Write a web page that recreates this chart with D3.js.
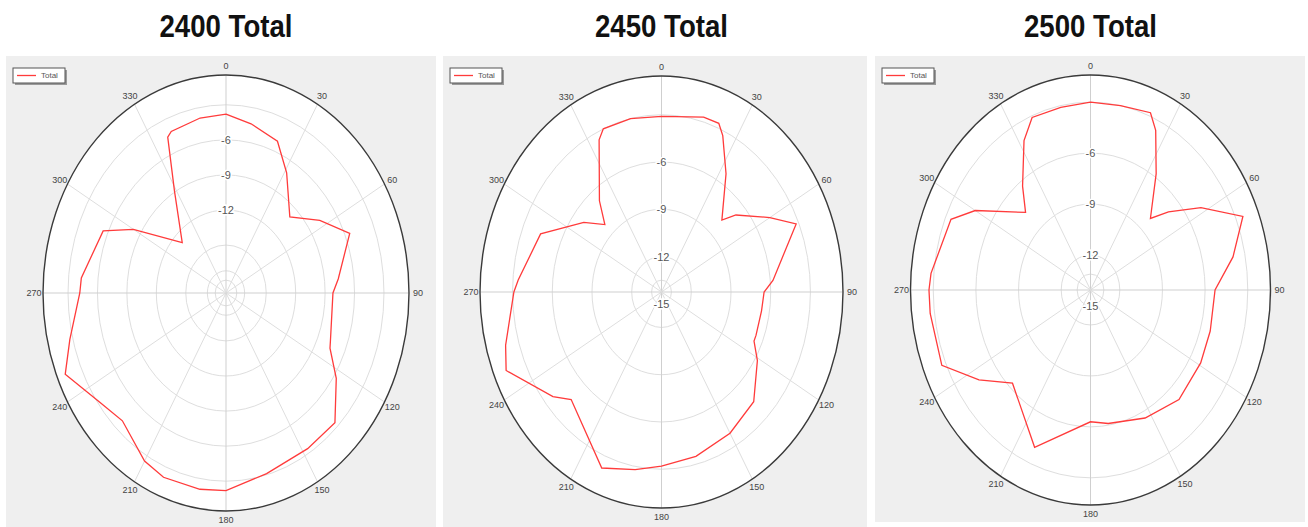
<!DOCTYPE html>
<html>
<head>
<meta charset="utf-8">
<script src="https://d3js.org/d3.v7.min.js"></script>
<style>
body { margin: 0; background: #fff; }
text { font-family: "Liberation Sans", Arial, sans-serif; }
</style>
</head>
<body>
<script>
// chart titles and legend
var titles = ["2400 Total", "2450 Total", "2500 Total"];
var seriesName = "Total";

// angle tick labels (degrees)
var angleTicks = [0, 30, 60, 90, 120, 150, 180, 210, 240, 270, 300, 330];

// 2400 pattern (deg, dB)
var angles2400 = [0, 10, 22, 31, 45, 57, 68, 84, 90, 111, 114, 123, 135, 148, 165, 180, 189, 202, 210, 224, 234, 247, 256, 270, 275, 293, 300, 314, 329, 336, 338, 350];
var gain2400 = [-3.8, -4.4, -5.1, -7.1, -9.9, -7.7, -5.5, -7.6, -8.2, -7.7, -7.5, -5.7, -3.4, -3.4, -3.1, -2.2, -2.1, -2.1, -2.5, -3.9, -3.2, -1.3, -2.7, -4.2, -4.3, -5.5, -8.2, -12.9, -8.9, -4.5, -4.2, -3.9];
var rings2400 = [-3, -6, -9, -12, -15, -18, -21];
var ringLabels2400 = [-6, -9, -12];

// 2450 pattern
var angles2450 = [0, 16, 22, 25, 33, 45, 49, 60, 67, 85, 90, 99, 111, 114, 121, 135, 150, 166, 180, 190, 202, 225, 231, 247, 254, 270, 274, 292, 307, 315, 321, 334, 337, 348];
var gain2450 = [-3.1, -2.7, -2.7, -3.3, -5.3, -7.8, -6.8, -4.8, -3.2, -5.8, -6.5, -6.6, -6.6, -6.6, -5.8, -4.4, -3.9, -3.5, -3.2, -2.8, -2.2, -4.6, -3.7, -1.5, -2.0, -3.1, -3.4, -4.4, -6.9, -8.2, -6.8, -3.5, -3.0, -3.0];
var rings2450 = [-3, -6, -9, -12, -15];
var ringLabels2450 = [-6, -9, -12, -15];

// 2500 pattern
var angles2500 = [0, 11, 22, 26, 34, 45, 50, 58, 68, 79, 90, 106, 119, 136, 153, 171, 180, 203, 225, 236, 247, 263, 270, 275, 293, 300, 315, 322, 332, 338, 349];
var gain2500 = [-3.0, -3.0, -2.8, -3.6, -5.8, -8.1, -6.9, -4.9, -2.5, -3.85, -5.3, -5.3, -5.2, -5.1, -5.6, -6.1, -6.3, -4.0, -6.3, -4.6, -2.7, -2.7, -2.7, -2.8, -3.4, -4.7, -7.6, -6.3, -4.1, -3.1, -3.1];
var rings2500 = [-3, -6, -9, -12, -15];
var ringLabels2500 = [-6, -9, -12, -15];

var width = 1308, height = 527;

var panels = [
	{ title: titles[0], angles: angles2400, gains: gain2400, rings: rings2400, labels: ringLabels2400,
	  domain: [-19.1, -0.45], box: [6, 56, 430, 471], cx: 226, cy: 293, rx: 183, ry: 218 },
	{ title: titles[1], angles: angles2450, gains: gain2450, rings: rings2450, labels: ringLabels2450,
	  domain: [-14.25, -0.54], box: [443, 56, 424, 471], cx: 661.5, cy: 292, rx: 181.5, ry: 216 },
	{ title: titles[2], angles: angles2500, gains: gain2500, rings: rings2500, labels: ringLabels2500,
	  domain: [-14.06, -1.4], box: [875, 56, 430, 466], cx: 1090.5, cy: 290, rx: 180, ry: 215 }
];

var svg = d3.select("body")
			.append("svg")
			.attr("width", width)
			.attr("height", height);

var ang = d3.scaleLinear()
		.domain([0, 360])
		.range([0, 2 * Math.PI]);

panels.forEach(function(p) {
	var g = svg.append("g");
	var r = d3.scaleLinear()
			.domain(p.domain)
			.range([0, 1]);

	function px(deg, n) { return p.cx + p.rx * n * Math.sin(ang(deg)); }
	function py(deg, n) { return p.cy - p.ry * n * Math.cos(ang(deg)); }

	// title
	g.append("text")
		.attr("x", p.cx)
		.attr("y", 37)
		.attr("text-anchor", "middle")
		.attr("font-size", 32)
		.attr("font-weight", "bold")
		.attr("fill", "#111")
		.attr("textLength", 133)
		.attr("lengthAdjust", "spacingAndGlyphs")
		.text(p.title);

	// panel background
	g.append("rect")
		.attr("x", p.box[0])
		.attr("y", p.box[1])
		.attr("width", p.box[2])
		.attr("height", p.box[3])
		.attr("fill", "#efefef");

	// plot area
	g.append("ellipse")
		.attr("cx", p.cx)
		.attr("cy", p.cy)
		.attr("rx", p.rx)
		.attr("ry", p.ry)
		.attr("fill", "#fff");

	// grid rings
	g.selectAll(".ring")
		.data(p.rings)
		.enter()
		.append("ellipse")
			.attr("cx", p.cx)
			.attr("cy", p.cy)
			.attr("rx", function(d) { return p.rx * Math.abs(r(d)); })
			.attr("ry", function(d) { return p.ry * Math.abs(r(d)); })
			.attr("fill", "none")
			.attr("stroke", "#dedede")
			.attr("stroke-width", 1);

	// spokes
	g.selectAll(".spoke")
		.data(angleTicks)
		.enter()
		.append("line")
			.attr("x1", p.cx)
			.attr("y1", p.cy)
			.attr("x2", function(d) { return px(d, 1); })
			.attr("y2", function(d) { return py(d, 1); })
			.attr("stroke", function(d) { return d % 90 == 0 ? "#cfcfcf" : "#dedede"; })
			.attr("stroke-width", 1);

	// outer frame
	g.append("ellipse")
		.attr("cx", p.cx)
		.attr("cy", p.cy)
		.attr("rx", p.rx)
		.attr("ry", p.ry)
		.attr("fill", "none")
		.attr("stroke", "#3a3a3a")
		.attr("stroke-width", 1.4);

	// angle labels
	g.selectAll(".alabel")
		.data(angleTicks)
		.enter()
		.append("text")
			.attr("x", function(d) { return px(d, 1) + 9 * Math.sin(ang(d)); })
			.attr("y", function(d) { return py(d, 1) - 9 * Math.cos(ang(d)); })
			.attr("text-anchor", "middle")
			.attr("dominant-baseline", "central")
			.attr("font-size", 9)
			.attr("fill", "#444")
			.text(function(d) { return d; });

	// ring labels
	g.selectAll(".rlabel")
		.data(p.labels)
		.enter()
		.append("text")
			.attr("x", p.cx)
			.attr("y", function(d) { return py(0, r(d)); })
			.attr("text-anchor", "middle")
			.attr("dominant-baseline", "central")
			.attr("font-size", 11)
			.attr("fill", "#555")
			.attr("stroke", "#fff")
			.attr("stroke-width", 3)
			.attr("paint-order", "stroke")
			.text(function(d) { return d; });

	// pattern
	var pts = d3.zip(p.angles, p.gains);
	var line = d3.line()
			.x(function(d) { return px(d[0], r(d[1])); })
			.y(function(d) { return py(d[0], r(d[1])); })
			.curve(d3.curveLinearClosed);

	g.append("path")
		.attr("d", line(pts))
		.attr("fill", "none")
		.attr("stroke", "#ff3b3b")
		.attr("stroke-width", 1.3);

	// legend
	var lx = p.box[0] + 7, ly = 68;
	g.append("rect")
		.attr("x", lx + 2)
		.attr("y", ly + 2)
		.attr("width", 52)
		.attr("height", 15)
		.attr("fill", "#9a9a9a");
	g.append("rect")
		.attr("x", lx)
		.attr("y", ly)
		.attr("width", 52)
		.attr("height", 15)
		.attr("fill", "#fff")
		.attr("stroke", "#555")
		.attr("stroke-width", 1);
	g.append("line")
		.attr("x1", lx + 4)
		.attr("x2", lx + 23)
		.attr("y1", ly + 7.5)
		.attr("y2", ly + 7.5)
		.attr("stroke", "#ff3b3b")
		.attr("stroke-width", 1.3);
	g.append("text")
		.attr("x", lx + 28)
		.attr("y", ly + 7.5)
		.attr("dominant-baseline", "central")
		.attr("font-size", 8)
		.attr("fill", "#555")
		.text(seriesName);
});
</script>
</body>
</html>
